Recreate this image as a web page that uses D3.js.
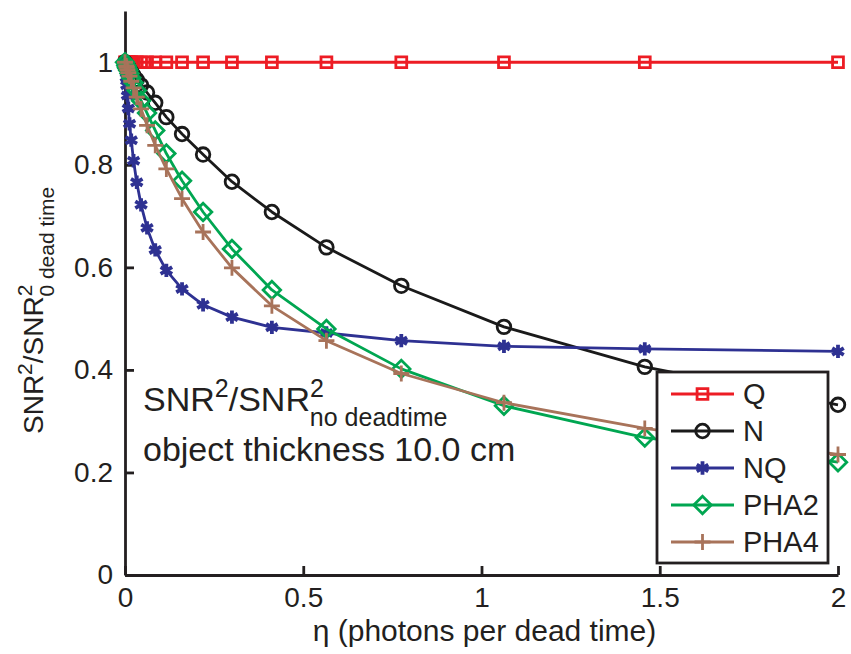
<!DOCTYPE html>
<html>
<head>
<meta charset="utf-8">
<script src="https://cdn.jsdelivr.net/npm/d3@7"></script>
<style>
  body { margin: 0; background: #fff; }
  svg text { font-family: "Liberation Sans", Arial, sans-serif; fill: #231f20; }
</style>
</head>
<body>
<svg id="chart"></svg>
<script>
'use strict';

const WIDTH = 851;
const HEIGHT = 654;
const LEFT = 125;
const RIGHT = 838;
const BOTTOM = 575;
const TOP = 11;
const FONT = 28;

// eta values (photons per dead time), same for every series
const eta = [0, 0.0036, 0.0049, 0.0068, 0.0093, 0.0127, 0.0175, 0.024, 0.0329, 0.0451, 0.0618,
             0.0848, 0.116, 0.160, 0.219, 0.300, 0.412, 0.565, 0.775, 1.063, 1.458, 2.0];

const seriesNames = ["Q", "N", "NQ", "PHA2", "PHA4"];

const valuesQ = [1, 1, 1, 1, 1, 1, 1, 1, 1, 1, 1, 1, 1, 1, 1, 1, 1, 1, 1, 1, 1, 1];
const valuesN = [1, 0.996, 0.994, 0.992, 0.99, 0.986, 0.981, 0.974, 0.966, 0.955, 0.941,
                 0.921, 0.893, 0.860, 0.820, 0.767, 0.708, 0.639, 0.564, 0.484, 0.406, 0.332];
const valuesNQ = [1, 0.97, 0.955, 0.935, 0.91, 0.88, 0.848, 0.808, 0.766, 0.722, 0.677,
                  0.634, 0.594, 0.558, 0.527, 0.503, 0.483, 0.472, 0.457, 0.446, 0.441, 0.436];
const valuesPHA2 = [1, 0.994, 0.991, 0.988, 0.984, 0.978, 0.970, 0.960, 0.945, 0.925, 0.901,
                    0.867, 0.822, 0.769, 0.708, 0.636, 0.556, 0.480, 0.402, 0.330, 0.268, 0.220];
const valuesPHA4 = [1, 0.993, 0.99, 0.985, 0.98, 0.973, 0.963, 0.950, 0.932, 0.909, 0.877,
                    0.838, 0.792, 0.734, 0.669, 0.599, 0.525, 0.457, 0.393, 0.336, 0.286, 0.235];

const xTicks = [0, 0.5, 1, 1.5, 2];
const xTickLabels = ["0", "0.5", "1", "1.5", "2"];
const yTicks = [0, 0.2, 0.4, 0.6, 0.8, 1];
const yTickLabels = ["0", "0.2", "0.4", "0.6", "0.8", "1"];

const STYLES = {
    Q:    { color: "#ed1c24", symbol: d3.symbolSquare2, size: 150, width: 2.8 },
    N:    { color: "#1a1a1a", symbol: d3.symbolCircle, size: 145, width: 2.8 },
    NQ:   { color: "#2e3192", symbol: d3.symbolAsterisk, size: 125, width: 3.8 },
    PHA2: { color: "#00a651", symbol: d3.symbolDiamond2, size: 195, width: 2.8 },
    PHA4: { color: "#a8735a", symbol: d3.symbolPlus, size: 85, width: 2.8 }
};

const seriesValues = [valuesQ, valuesN, valuesNQ, valuesPHA2, valuesPHA4];
const series = seriesNames.map((name, i) => ({
    name: name,
    points: eta.map((x, j) => ({ x: x, y: seriesValues[i][j] }))
}));

const svg = d3.select("svg#chart")
              .attr("width", WIDTH)
              .attr("height", HEIGHT);

const xScale = d3.scaleLinear().domain([0, 2]).range([LEFT, RIGHT]);
const yScale = d3.scaleLinear().domain([0, 1.1]).range([BOTTOM, TOP]);

// axes: matlab style, ticks pointing inwards
const xAxis = d3.axisBottom(xScale)
                .tickValues(xTicks)
                .tickFormat((d, i) => xTickLabels[i])
                .tickSizeInner(-9)
                .tickSizeOuter(0)
                .tickPadding(22);
const yAxis = d3.axisLeft(yScale)
                .tickValues(yTicks)
                .tickFormat((d, i) => yTickLabels[i])
                .tickSizeInner(-9)
                .tickSizeOuter(0)
                .tickPadding(12);

const gx = svg.append("g")
              .attr("transform", "translate(0," + BOTTOM + ")")
              .call(xAxis);
const gy = svg.append("g")
              .attr("transform", "translate(" + LEFT + ",0)")
              .call(yAxis);

[gx, gy].forEach(g => {
    g.select(".domain").attr("stroke", "#231f20").attr("stroke-width", 2.8);
    g.selectAll(".tick line").attr("stroke", "#231f20").attr("stroke-width", 2.8);
    g.selectAll(".tick text").attr("font-size", FONT).attr("fill", "#231f20");
});
gx.selectAll(".tick text").attr("dy", "0.35em");

// lines
const line = d3.line().x(d => xScale(d.x)).y(d => yScale(d.y));

series.forEach(s => {
    const st = STYLES[s.name];
    const g = svg.append("g").attr("data-type", s.name);
    g.append("path")
     .datum(s.points)
     .attr("fill", "none")
     .attr("stroke", st.color)
     .attr("stroke-width", 2.8)
     .attr("stroke-linejoin", "round")
     .attr("d", line);
    g.selectAll("path.marker")
     .data(s.points)
     .enter()
     .append("path")
     .attr("class", "marker")
     .attr("transform", d => "translate(" + xScale(d.x) + "," + yScale(d.y) + ")")
     .attr("d", d3.symbol().type(st.symbol).size(st.size))
     .attr("fill", "none")
     .attr("stroke", st.color)
     .attr("stroke-width", st.width);
});

// annotation text
const note = svg.append("text")
                .attr("x", 143)
                .attr("y", 411)
                .attr("font-size", 34);
note.append("tspan").text("SNR");
note.append("tspan").attr("dy", -14).attr("font-size", 25).text("2");
note.append("tspan").attr("dy", 14).text("/SNR");
note.append("tspan").attr("dy", -14).attr("font-size", 25).text("2");
note.append("tspan").attr("dx", -14).attr("dy", 29).attr("font-size", 25).text("no deadtime");

svg.append("text")
   .attr("x", 143)
   .attr("y", 461)
   .attr("font-size", 34)
   .text("object thickness 10.0 cm");

// axis titles
svg.append("text")
   .attr("x", (LEFT + RIGHT) / 2 + 3)
   .attr("y", 641)
   .attr("text-anchor", "middle")
   .attr("font-size", 30)
   .text("\u03b7 (photons per dead time)");

const ylab = svg.append("text")
                .attr("transform", "translate(43,434) rotate(-90)")
                .attr("font-size", FONT);
ylab.append("tspan").text("SNR");
ylab.append("tspan").attr("dy", -11).attr("font-size", 21).text("2");
ylab.append("tspan").attr("dy", 11).text("/SNR");
ylab.append("tspan").attr("dy", -11).attr("font-size", 21).text("2");
ylab.append("tspan").attr("dx", -12).attr("dy", 22).attr("font-size", 21).text("0 dead time");

// legend
const legend = svg.append("g").attr("transform", "translate(657,372)");
legend.append("rect")
      .attr("width", 171)
      .attr("height", 191)
      .attr("fill", "#fff")
      .attr("stroke", "#231f20")
      .attr("stroke-width", 2.8);

seriesNames.forEach((name, i) => {
    const st = STYLES[name];
    const y = 22 + i * 37;
    legend.append("line")
          .attr("x1", 14).attr("x2", 77)
          .attr("y1", y).attr("y2", y)
          .attr("stroke", st.color)
          .attr("stroke-width", 2.8);
    legend.append("path")
          .attr("transform", "translate(45.5," + y + ")")
          .attr("d", d3.symbol().type(st.symbol).size(st.size))
          .attr("fill", "none")
          .attr("stroke", st.color)
          .attr("stroke-width", st.width);
    legend.append("text")
          .attr("x", 86)
          .attr("y", y + 10)
          .attr("font-size", 29)
          .text(name);
});
</script>
</body>
</html>
